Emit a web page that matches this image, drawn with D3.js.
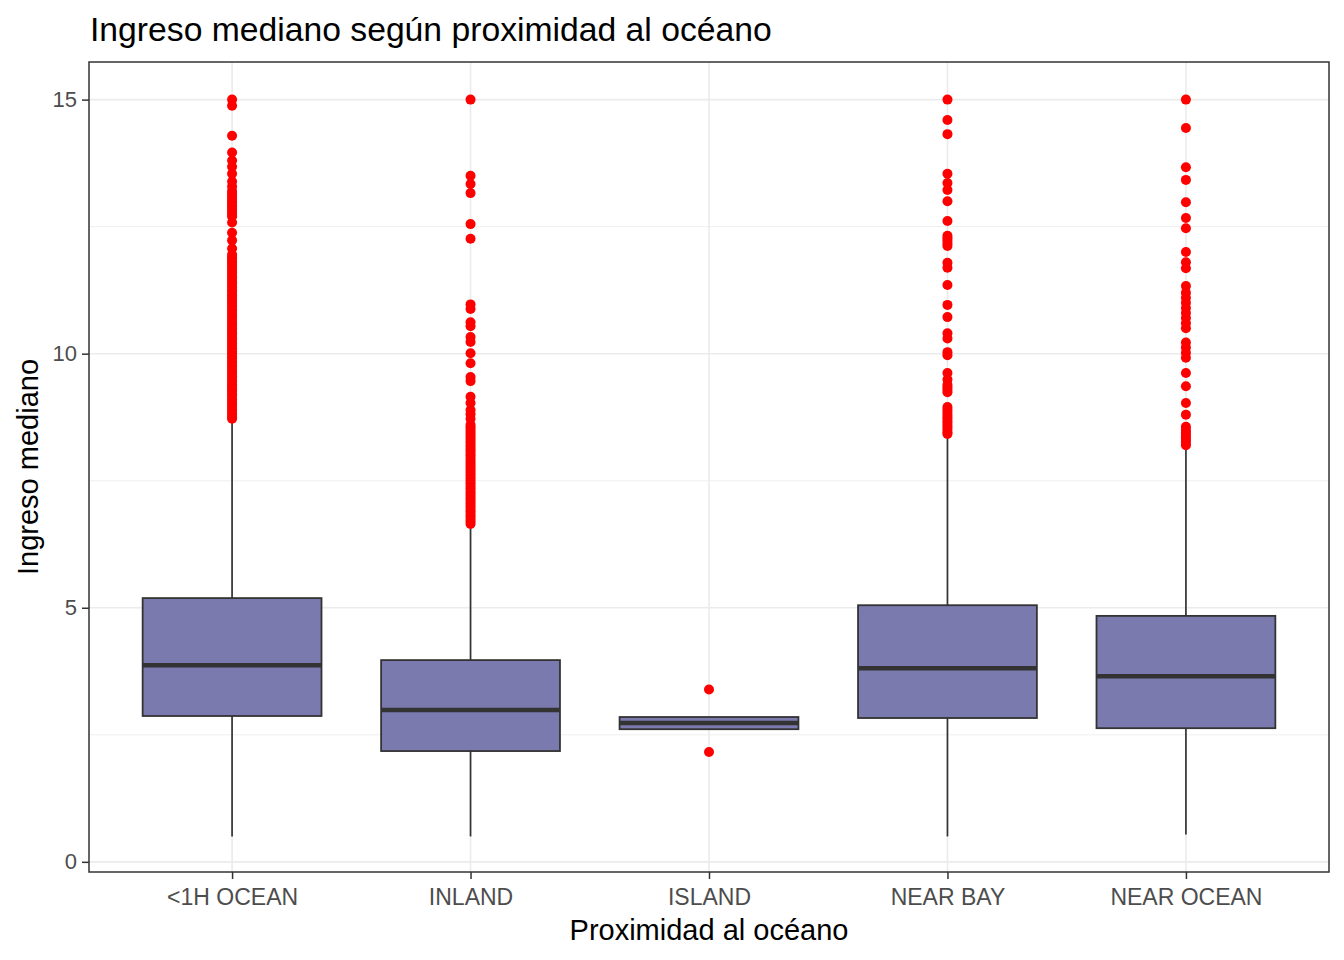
<!DOCTYPE html>
<html>
<head>
<meta charset="utf-8">
<script src="https://cdn.jsdelivr.net/npm/d3@7"></script>
<style>
  body { margin: 0; background: #ffffff; }
</style>
</head>
<body>
<div id="chart"></div>
<script>
// categories and box statistics
const categories = ["<1H OCEAN", "INLAND", "ISLAND", "NEAR BAY", "NEAR OCEAN"];
const whiskerLow = [0.4999, 0.4999, 2.61, 0.4999, 0.54];
const q1 = [2.87, 2.18, 2.61, 2.83, 2.63];
const medians = [3.87, 2.99, 2.73, 3.81, 3.65];
const q3 = [5.19, 3.97, 2.85, 5.05, 4.84];
const whiskerHigh = [8.66, 6.6, 2.85, 8.38, 8.16];

// outliers per category
const out1HOcean = [15.0, 14.88, 14.29, 13.96, 13.8, 13.68, 13.54, 13.39, 13.29, 13.2, 13.15, 13.1,
  13.05, 13.0, 12.95, 12.9, 12.85, 12.8, 12.75, 12.7, 12.58, 12.38, 12.23, 12.07, 11.95, 11.9, 11.85,
  11.8, 11.75, 11.7, 11.65, 11.6, 11.55, 11.5, 11.45, 11.4, 11.35, 11.3, 11.25, 11.2, 11.15, 11.1,
  11.05, 11.0, 10.95, 10.9, 10.85, 10.8, 10.75, 10.7, 10.65, 10.6, 10.55, 10.5, 10.45, 10.4, 10.35,
  10.3, 10.25, 10.2, 10.15, 10.1, 10.05, 10.0, 9.95, 9.9, 9.85, 9.8, 9.75, 9.7, 9.65, 9.6, 9.55, 9.5,
  9.45, 9.4, 9.35, 9.3, 9.25, 9.2, 9.15, 9.1, 9.05, 9.0, 8.95, 8.9, 8.85, 8.8, 8.75, 8.72];
const outInland = [15.0, 13.5, 13.34, 13.16, 12.55, 12.26, 10.97, 10.88, 10.62, 10.54, 10.33, 10.23,
  10.01, 9.81, 9.54, 9.46, 9.15, 9.03, 8.89, 8.81, 8.72, 8.6, 8.55, 8.5, 8.45, 8.4, 8.35, 8.3, 8.25,
  8.2, 8.15, 8.1, 8.05, 8.0, 7.95, 7.9, 7.85, 7.8, 7.75, 7.7, 7.65, 7.6, 7.55, 7.5, 7.45, 7.4, 7.35,
  7.3, 7.25, 7.2, 7.15, 7.1, 7.05, 7.0, 6.95, 6.9, 6.85, 6.8, 6.75, 6.7, 6.65];
const outIsland = [3.39, 2.16];
const outNearBay = [15.0, 14.6, 14.32, 13.54, 13.36, 13.22, 13.0, 12.61, 12.32, 12.27, 12.22, 12.17,
  12.12, 11.79, 11.69, 11.35, 10.96, 10.72, 10.4, 10.3, 10.03, 9.97, 9.62, 9.49, 9.39, 9.34, 9.29,
  9.24, 8.95, 8.9, 8.85, 8.8, 8.75, 8.7, 8.65, 8.6, 8.55, 8.5, 8.45, 8.42];
const outNearOcean = [15.0, 14.44, 13.67, 13.42, 12.98, 12.67, 12.47, 12.0, 11.8, 11.68, 11.33, 11.2,
  11.1, 11.0, 10.9, 10.8, 10.7, 10.6, 10.5, 10.22, 10.12, 10.02, 9.92, 9.62, 9.36, 9.03, 8.8, 8.56,
  8.5, 8.45, 8.4, 8.35, 8.3, 8.25, 8.2];

const yTicks = [0, 5, 10, 15];
const yMinorTicks = [2.5, 7.5, 12.5];

const outliers = [out1HOcean, outInland, outIsland, outNearBay, outNearOcean];
const boxes = categories.map((c, i) => ({
  cat: c, lo: whiskerLow[i], q1: q1[i], med: medians[i], q3: q3[i], hi: whiskerHigh[i]
}));
const points = [];
outliers.forEach((arr, i) => arr.forEach(v => points.push({ cat: categories[i], value: v })));

const width = 1344;
const height = 960;
const margin = { top: 62, right: 15, bottom: 88, left: 89 };
const font = "'Liberation Sans', Arial, sans-serif";

const svg = d3.select("#chart")
  .append("svg")
  .attr("width", width)
  .attr("height", height)
  .style("font-family", font);

const x = d3.scalePoint()
  .domain(categories)
  .range([margin.left, width - margin.right])
  .padding(0.6);

const y = d3.scaleLinear()
  .domain([-0.2, 15.74])
  .range([height - margin.bottom, margin.top]);

const boxW = x.step() * 0.75;

// grid
const grid = svg.append("g");
grid.selectAll(".minor")
  .data(yMinorTicks)
  .enter().append("line")
  .attr("x1", margin.left).attr("x2", width - margin.right)
  .attr("y1", d => y(d)).attr("y2", d => y(d))
  .attr("stroke", "#ebebeb").attr("stroke-width", 0.8);
grid.selectAll(".major")
  .data(yTicks)
  .enter().append("line")
  .attr("x1", margin.left).attr("x2", width - margin.right)
  .attr("y1", d => y(d)).attr("y2", d => y(d))
  .attr("stroke", "#ebebeb").attr("stroke-width", 1.6);
grid.selectAll(".vmajor")
  .data(categories)
  .enter().append("line")
  .attr("x1", d => x(d)).attr("x2", d => x(d))
  .attr("y1", margin.top).attr("y2", height - margin.bottom)
  .attr("stroke", "#ebebeb").attr("stroke-width", 1.6);

// boxplots
const g = svg.append("g").selectAll("g")
  .data(boxes)
  .enter().append("g");

g.append("line")
  .attr("x1", d => x(d.cat)).attr("x2", d => x(d.cat))
  .attr("y1", d => y(d.q3)).attr("y2", d => y(d.hi))
  .attr("stroke", "#333333").attr("stroke-width", 1.7);
g.append("line")
  .attr("x1", d => x(d.cat)).attr("x2", d => x(d.cat))
  .attr("y1", d => y(d.q1)).attr("y2", d => y(d.lo))
  .attr("stroke", "#333333").attr("stroke-width", 1.7);
g.append("rect")
  .attr("x", d => x(d.cat) - boxW / 2)
  .attr("width", boxW)
  .attr("y", d => y(d.q3))
  .attr("height", d => y(d.q1) - y(d.q3))
  .attr("fill", "#7a7aaf")
  .attr("stroke", "#333333")
  .attr("stroke-width", 1.8);
g.append("line")
  .attr("x1", d => x(d.cat) - boxW / 2).attr("x2", d => x(d.cat) + boxW / 2)
  .attr("y1", d => y(d.med)).attr("y2", d => y(d.med))
  .attr("stroke", "#333333").attr("stroke-width", 4.5);

// outliers
svg.append("g").selectAll("circle")
  .data(points)
  .enter().append("circle")
  .attr("cx", d => x(d.cat))
  .attr("cy", d => y(d.value))
  .attr("r", 5)
  .attr("fill", "#ff0000");

// panel border
svg.append("rect")
  .attr("x", margin.left).attr("y", margin.top)
  .attr("width", width - margin.left - margin.right)
  .attr("height", height - margin.top - margin.bottom)
  .attr("fill", "none")
  .attr("stroke", "#333333")
  .attr("stroke-width", 1.5);

// axes
const yAxis = svg.append("g")
  .attr("transform", `translate(${margin.left}, 0)`)
  .call(d3.axisLeft(y).tickValues(yTicks).tickSize(7).tickPadding(5).tickFormat(d3.format("d")));
yAxis.select(".domain").remove();
yAxis.selectAll("line").attr("stroke", "#333333").attr("stroke-width", 1.5);
yAxis.selectAll("text")
  .attr("fill", "#4d4d4d")
  .style("font-size", "22px")
  .style("font-family", font);

const xAxis = svg.append("g")
  .attr("transform", `translate(0, ${height - margin.bottom})`)
  .call(d3.axisBottom(x).tickSize(7).tickPadding(10));
xAxis.select(".domain").remove();
xAxis.selectAll("line").attr("stroke", "#333333").attr("stroke-width", 1.5);
xAxis.selectAll("text")
  .attr("fill", "#4d4d4d")
  .style("font-size", "23px")
  .style("font-family", font);

// titles
svg.append("text")
  .attr("x", 90)
  .attr("y", 41)
  .attr("fill", "#000000")
  .style("font-size", "33.7px")
  .text("Ingreso mediano según proximidad al océano");

svg.append("text")
  .attr("x", (margin.left + width - margin.right) / 2)
  .attr("y", 940)
  .attr("text-anchor", "middle")
  .attr("fill", "#000000")
  .style("font-size", "29px")
  .text("Proximidad al océano");

svg.append("text")
  .attr("transform", `translate(38, ${(margin.top + height - margin.bottom) / 2}) rotate(-90)`)
  .attr("text-anchor", "middle")
  .attr("fill", "#000000")
  .style("font-size", "29px")
  .text("Ingreso mediano");
</script>
</body>
</html>
